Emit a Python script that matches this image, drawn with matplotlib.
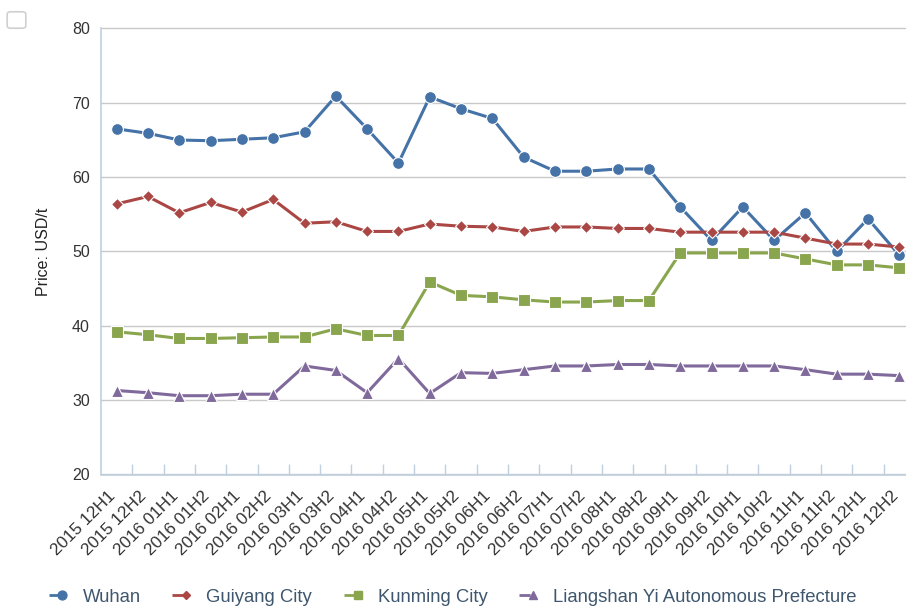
import matplotlib
matplotlib.use("Agg")
import matplotlib.pyplot as plt
from matplotlib.patches import FancyBboxPatch
from matplotlib.lines import Line2D

plt.rcParams["font.family"] = ["Liberation Sans", "DejaVu Sans"]

categories = ["2015 12H1", "2015 12H2", "2016 01H1", "2016 01H2", "2016 02H1", "2016 02H2",
              "2016 03H1", "2016 03H2", "2016 04H1", "2016 04H2", "2016 05H1", "2016 05H2",
              "2016 06H1", "2016 06H2", "2016 07H1", "2016 07H2", "2016 08H1", "2016 08H2",
              "2016 09H1", "2016 09H2", "2016 10H1", "2016 10H2", "2016 11H1", "2016 11H2",
              "2016 12H1", "2016 12H2"]

wuhan = [66.5, 65.9, 65.0, 64.9, 65.1, 65.3, 66.1, 70.9, 66.5, 61.9, 70.8, 69.2, 67.9,
         62.7, 60.8, 60.8, 61.1, 61.1, 56.0, 51.5, 56.0, 51.5, 55.2, 50.0, 54.4, 49.5]
guiyang = [56.4, 57.4, 55.2, 56.6, 55.3, 57.0, 53.8, 54.0, 52.7, 52.7, 53.7, 53.4, 53.3,
           52.7, 53.3, 53.3, 53.1, 53.1, 52.6, 52.6, 52.6, 52.6, 51.8, 51.0, 51.0, 50.6]
kunming = [39.2, 38.8, 38.3, 38.3, 38.4, 38.5, 38.5, 39.6, 38.7, 38.7, 45.9, 44.1, 43.9,
           43.5, 43.2, 43.2, 43.4, 43.4, 49.8, 49.8, 49.8, 49.8, 49.0, 48.2, 48.2, 47.8]
liangshan = [31.3, 31.0, 30.6, 30.6, 30.8, 30.8, 34.6, 34.0, 31.0, 35.6, 30.9, 33.7, 33.6,
             34.1, 34.6, 34.6, 34.8, 34.8, 34.6, 34.6, 34.6, 34.6, 34.1, 33.5, 33.5, 33.3]

series_names = ["Wuhan", "Guiyang City", "Kunming City", "Liangshan Yi Autonomous Prefecture"]
series_vals = [wuhan, guiyang, kunming, liangshan]
colors = ["#4572A7", "#AA4643", "#89A54E", "#80699B"]
markers = ["o", "D", "s", "^"]
msizes = [8.5, 6, 8, 8]
yticks = [20, 30, 40, 50, 60, 70, 80]

fig = plt.figure(figsize=(9.06, 6.06), dpi=100)
W, H = 906, 606
left_px, right_px, top_px, bot_px = 101, 915, 28.5, 474.5
ax = fig.add_axes([left_px / W, 1 - bot_px / H, (right_px - left_px) / W, (bot_px - top_px) / H])

x = list(range(len(categories)))
for name, vals, c, m, ms in zip(series_names, series_vals, colors, markers, msizes):
    ax.plot(x, vals, color=c, lw=2.2, marker=m, markersize=ms, markerfacecolor=c,
            markeredgecolor="white", markeredgewidth=0.8, label=name, zorder=3, clip_on=False)

ax.set_xlim(-0.5, len(categories) - 0.5)
ax.set_ylim(20, 80)
ax.set_yticks(yticks)
ax.set_yticklabels([str(v) for v in yticks], fontsize=11.5, color="#333333")
ax.grid(axis="y", color="#C8C8C8", lw=1)
for gl in ax.get_ygridlines():
    gl.set_clip_on(False)
ax.set_axisbelow(True)
ax.tick_params(axis="y", length=0, pad=8)

# category labels drawn as annotations so they can be nudged left of each point
ax.set_xticks(x)
ax.set_xticklabels([])
ax.tick_params(axis="x", which="major", length=0)
for i, lab in zip(x, categories):
    ax.annotate(lab, xy=(i, 0), xycoords=("data", "axes fraction"),
                xytext=(-6.5, -10), textcoords="offset points",
                rotation=45, ha="right", va="top", rotation_mode="anchor",
                fontsize=12.3, color="#333333", annotation_clip=False)
ax.set_xticks([i + 0.5 for i in x[:-1]], minor=True)
ax.tick_params(axis="x", which="minor", length=8, direction="in", color="#C0D0E0", width=1)

for s in ["top", "right"]:
    ax.spines[s].set_visible(False)
ax.spines["left"].set_color("#C0D0E0")
ax.spines["bottom"].set_color("#C0D0E0")
ax.spines["left"].set_linewidth(1.2)
ax.spines["bottom"].set_linewidth(1.2)

ax.set_ylabel("Price: USD/t", fontsize=11.5, color="#222222", labelpad=15)

handles = [Line2D([0], [0], color=c, lw=2, ls=(0, (4, 11.4)), marker=m, markersize=ms * 0.75,
                  markerfacecolor=c, markeredgecolor=c)
           for c, m, ms in zip(colors, markers, msizes)]
fig.legend(handles, series_names, loc="center left", bbox_to_anchor=(32 / W, 1 - 597 / H),
           ncol=4, frameon=False, fontsize=13.3, handlelength=1.5, columnspacing=1.7,
           handletextpad=0.35, labelcolor="#3E576F")

# small button at top-left
btn = FancyBboxPatch((9 / W, 1 - 27 / H), 15 / W, 14 / H, boxstyle="round,pad=0.002,rounding_size=0.004",
                     transform=fig.transFigure, facecolor="white", edgecolor="#D0D0D0", lw=1.2)
fig.patches.append(btn)

fig.savefig("out.png", dpi=100)
